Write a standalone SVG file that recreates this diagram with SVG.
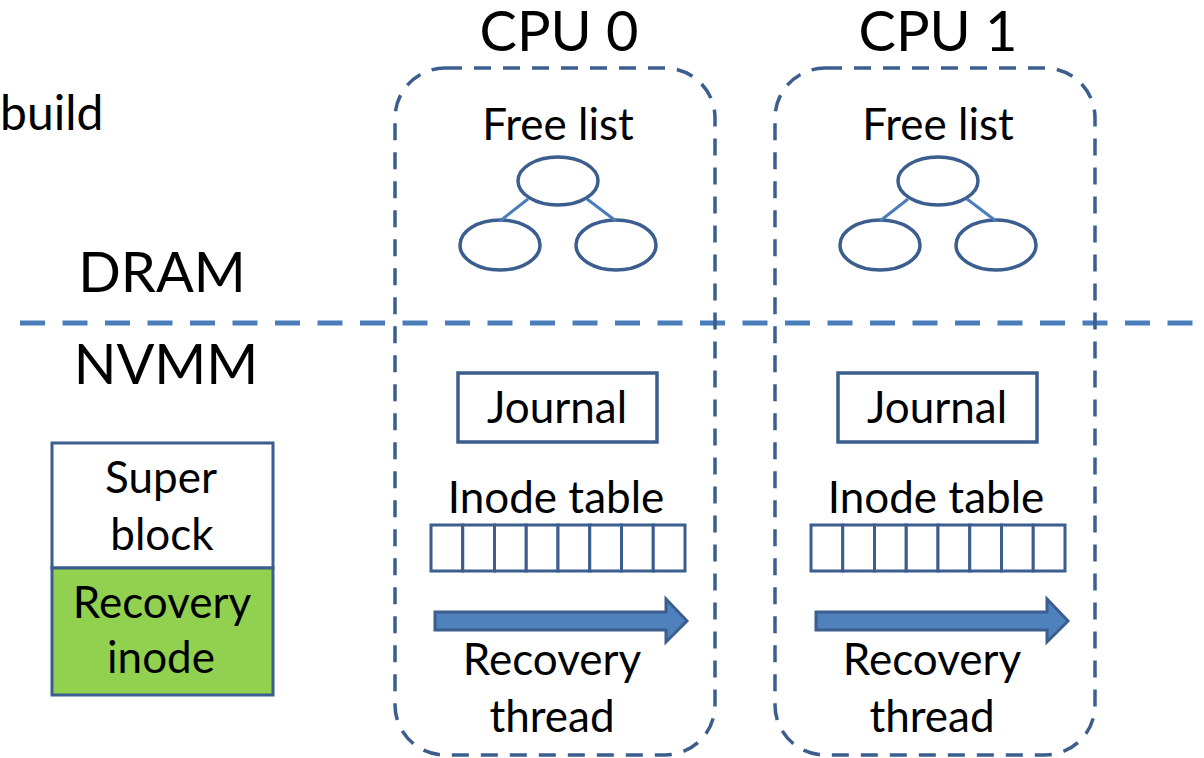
<svg xmlns="http://www.w3.org/2000/svg" width="1204" height="758" viewBox="0 0 1204 758">
  <style>
    text { font-family: Lato, "Open Sans", "Liberation Sans", sans-serif; fill: #000; text-anchor: middle; }
    .big { font-size: 56px; }
    .mid { font-size: 44px; }
    .cpu { fill: none; stroke: #3B5E8E; stroke-width: 3.5; stroke-dasharray: 17 12; }
    .sep { fill: none; stroke: #4A7EBB; stroke-width: 5; stroke-dasharray: 25 17.5; }
    .node { fill: #fff; stroke: #3B5E8E; stroke-width: 3.5; }
    .cell { fill: #fff; stroke: #3B5E8E; stroke-width: 3; }
    .edge { stroke: #4A7EBB; stroke-width: 3; fill: none; }
    .thread { fill: #4F81BD; stroke: #3B5E8E; stroke-width: 3; stroke-linejoin: miter; }
  </style>
  <defs>
    <!-- eight-slot inode table -->
    <g id="inode-cells">
      <rect class="cell" x="0" y="0" width="31.75" height="46"/>
      <rect class="cell" x="31.75" y="0" width="31.75" height="46"/>
      <rect class="cell" x="63.5" y="0" width="31.75" height="46"/>
      <rect class="cell" x="95.25" y="0" width="31.75" height="46"/>
      <rect class="cell" x="127" y="0" width="31.75" height="46"/>
      <rect class="cell" x="158.75" y="0" width="31.75" height="46"/>
      <rect class="cell" x="190.5" y="0" width="31.75" height="46"/>
      <rect class="cell" x="222.25" y="0" width="31.75" height="46"/>
    </g>
    <!-- block arrow for a recovery thread -->
    <path id="thread-arrow" class="thread" d="M0,0 H231 V-13 L252,9 L231,30 V18 H0 Z"/>
  </defs>

  <rect width="1204" height="758" fill="#fff"/>

  <!-- left-hand labels -->
  <g id="labels">
    <text x="0" y="130" style="font-size:48px;text-anchor:start">build</text>
    <text class="big" x="162" y="292">DRAM</text>
    <text class="big" x="166" y="384">NVMM</text>
  </g>

  <!-- DRAM / NVMM boundary -->
  <line id="memory-boundary" class="sep" x1="20" y1="323" x2="1196" y2="323"/>

  <!-- super block with the recovery inode -->
  <g id="superblock">
    <rect x="52" y="443" width="221" height="125" fill="#fff" stroke="#3B5E8E" stroke-width="3"/>
    <rect x="52" y="568" width="221" height="127" fill="#92D050" stroke="#3B5E8E" stroke-width="3"/>
    <text class="mid" x="161" y="493">Super</text>
    <text class="mid" x="162" y="550">block</text>
    <text class="mid" x="162" y="618">Recovery</text>
    <text class="mid" x="161" y="673">inode</text>
  </g>

  <!-- per-CPU structures -->
  <g id="cpu0">
    <text class="big" x="559" y="51">CPU 0</text>
    <rect class="cpu" x="395" y="68" width="320" height="687" rx="50" ry="50"/>
    <text class="mid" x="558" y="140">Free list</text>
    <g id="cpu0-freelist">
      <ellipse class="node" cx="558" cy="181" rx="40" ry="24"/>
      <ellipse class="node" cx="500" cy="245" rx="40" ry="25"/>
      <ellipse class="node" cx="616" cy="245" rx="40" ry="25"/>
    </g>
    <rect id="cpu0-journal" class="node" x="458" y="373" width="199" height="69" stroke-width="3"/>
    <text class="mid" x="557" y="423">Journal</text>
    <text class="mid" x="556" y="513">Inode table</text>
    <use href="#inode-cells" x="431" y="525"/>
    <use href="#thread-arrow" x="435" y="612"/>
    <text class="mid" x="552" y="675">Recovery</text>
    <text class="mid" x="552" y="732">thread</text>
  </g>

  <g id="cpu1">
    <text class="big" x="938" y="51">CPU 1</text>
    <rect class="cpu" x="775" y="68" width="320" height="687" rx="50" ry="50"/>
    <text class="mid" x="938" y="140">Free list</text>
    <g id="cpu1-freelist">
      <ellipse class="node" cx="938" cy="181" rx="40" ry="24"/>
      <ellipse class="node" cx="880" cy="245" rx="40" ry="25"/>
      <ellipse class="node" cx="996" cy="245" rx="40" ry="25"/>
    </g>
    <rect id="cpu1-journal" class="node" x="838" y="373" width="199" height="69" stroke-width="3"/>
    <text class="mid" x="937" y="423">Journal</text>
    <text class="mid" x="936" y="513">Inode table</text>
    <use href="#inode-cells" x="811" y="525"/>
    <use href="#thread-arrow" x="816" y="612"/>
    <text class="mid" x="932" y="675">Recovery</text>
    <text class="mid" x="932" y="732">thread</text>
  </g>

  <!-- free-list tree edges -->
  <g id="connectors">
    <line class="edge" x1="528" y1="199" x2="500" y2="221"/>
    <line class="edge" x1="587" y1="199" x2="616" y2="221"/>
    <line class="edge" x1="908" y1="199" x2="880" y2="221"/>
    <line class="edge" x1="967" y1="199" x2="996" y2="221"/>
  </g>
</svg>
